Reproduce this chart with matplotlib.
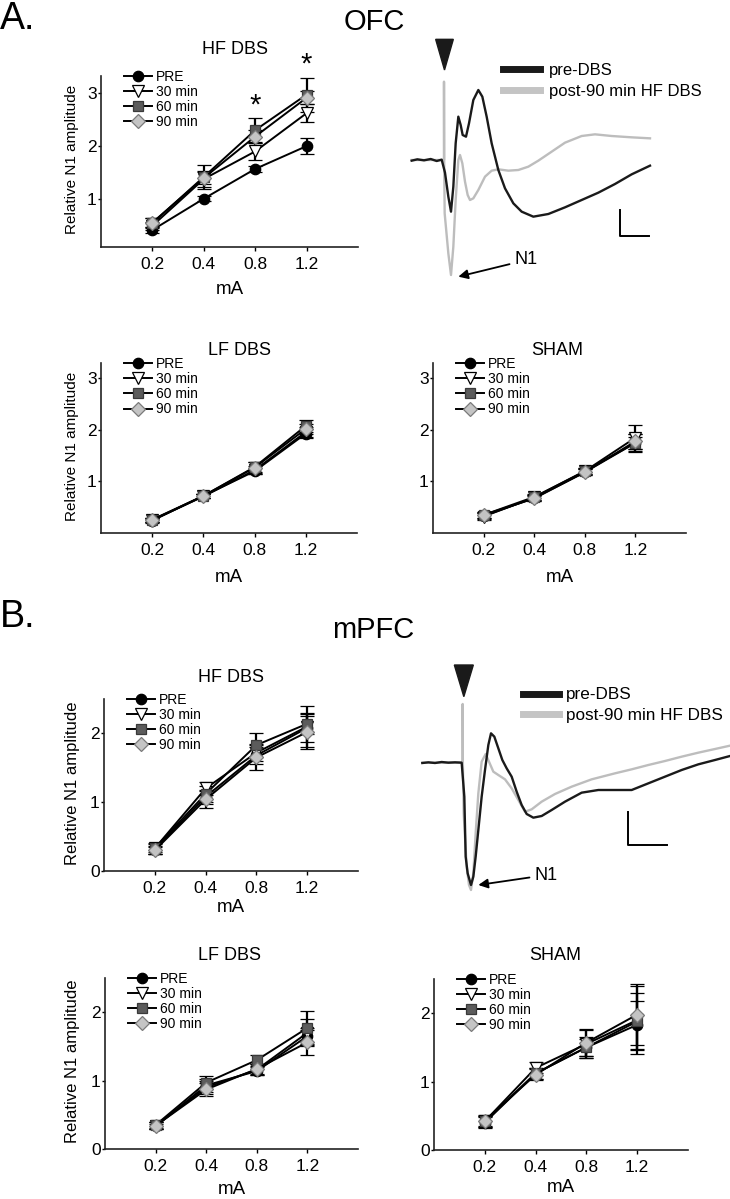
import numpy as np
import matplotlib
matplotlib.use('Agg')
import matplotlib.pyplot as plt
from matplotlib.lines import Line2D
from matplotlib.patches import Polygon

plt.rcParams['font.family'] = ['Liberation Sans', 'DejaVu Sans']

# ---------------- data ----------------
currents = ['0.2', '0.4', '0.8', '1.2']
series_labels = ['PRE', '30 min', '60 min', '90 min']

# OFC - HF DBS
ofc_hf_pre = [0.42, 1.01, 1.57, 2.00]
ofc_hf_pre_err = [0.05, 0.05, 0.05, 0.15]
ofc_hf_30 = [0.50, 1.38, 1.90, 2.62]
ofc_hf_30_err = [0.08, 0.15, 0.16, 0.17]
ofc_hf_60 = [0.55, 1.42, 2.30, 2.97]
ofc_hf_60_err = [0.10, 0.22, 0.22, 0.32]
ofc_hf_90 = [0.56, 1.40, 2.18, 2.91]
ofc_hf_90_err = [0.08, 0.12, 0.12, 0.12]

# OFC - LF DBS
ofc_lf_pre = [0.24, 0.72, 1.20, 1.93]
ofc_lf_pre_err = [0.04, 0.04, 0.06, 0.08]
ofc_lf_30 = [0.25, 0.71, 1.22, 1.96]
ofc_lf_30_err = [0.04, 0.04, 0.08, 0.10]
ofc_lf_60 = [0.25, 0.72, 1.28, 2.08]
ofc_lf_60_err = [0.04, 0.04, 0.10, 0.12]
ofc_lf_90 = [0.26, 0.72, 1.27, 2.02]
ofc_lf_90_err = [0.04, 0.04, 0.10, 0.10]

# OFC - SHAM
ofc_sham_pre = [0.33, 0.68, 1.18, 1.75]
ofc_sham_pre_err = [0.05, 0.05, 0.06, 0.12]
ofc_sham_30 = [0.32, 0.69, 1.20, 1.85]
ofc_sham_30_err = [0.06, 0.05, 0.06, 0.25]
ofc_sham_60 = [0.35, 0.70, 1.20, 1.75]
ofc_sham_60_err = [0.06, 0.05, 0.06, 0.18]
ofc_sham_90 = [0.35, 0.67, 1.18, 1.78]
ofc_sham_90_err = [0.05, 0.05, 0.06, 0.15]

# mPFC - HF DBS
mpfc_hf_pre = [0.31, 1.08, 1.68, 2.08]
mpfc_hf_pre_err = [0.06, 0.10, 0.12, 0.20]
mpfc_hf_30 = [0.33, 1.20, 1.72, 2.10]
mpfc_hf_30_err = [0.06, 0.10, 0.12, 0.30]
mpfc_hf_60 = [0.33, 1.12, 1.83, 2.14]
mpfc_hf_60_err = [0.08, 0.12, 0.18, 0.15]
mpfc_hf_90 = [0.30, 1.04, 1.65, 2.02]
mpfc_hf_90_err = [0.05, 0.12, 0.18, 0.24]

# mPFC - LF DBS
mpfc_lf_pre = [0.33, 0.93, 1.14, 1.65]
mpfc_lf_pre_err = [0.04, 0.10, 0.06, 0.12]
mpfc_lf_30 = [0.34, 0.90, 1.16, 1.70]
mpfc_lf_30_err = [0.05, 0.10, 0.08, 0.20]
mpfc_lf_60 = [0.35, 0.97, 1.30, 1.77]
mpfc_lf_60_err = [0.05, 0.10, 0.08, 0.25]
mpfc_lf_90 = [0.34, 0.87, 1.17, 1.56]
mpfc_lf_90_err = [0.05, 0.10, 0.08, 0.18]

# mPFC - SHAM
mpfc_sham_pre = [0.40, 1.12, 1.50, 1.83]
mpfc_sham_pre_err = [0.08, 0.08, 0.12, 0.35]
mpfc_sham_30 = [0.42, 1.20, 1.55, 1.90]
mpfc_sham_30_err = [0.08, 0.08, 0.20, 0.50]
mpfc_sham_60 = [0.42, 1.12, 1.50, 1.88]
mpfc_sham_60_err = [0.08, 0.08, 0.15, 0.42]
mpfc_sham_90 = [0.43, 1.10, 1.57, 1.98]
mpfc_sham_90_err = [0.08, 0.08, 0.20, 0.45]

# Example evoked traces (time in ms, amplitude in arbitrary units)
ofc_pre_t = [-9.7, -8.0, -6.0, -4.0, -2.2, -0.7, 0.3, 1.3, 2.1, 2.8, 3.5, 4.3, 5.0, 5.6, 6.6,
             7.5, 8.8, 10.3, 11.5, 12.8, 14.3, 16.3, 18.3, 20.8, 23.3, 26.8, 31.3, 36.3,
             41.3, 46.3, 51.3, 56.3, 61.8]
ofc_pre_a = [-0.02, 0.02, -0.01, 0.03, -0.03, 0.01, -0.38, -1.10, -1.55, -0.80, 0.50, 1.30,
             1.05, 0.75, 0.70, 1.10, 1.80, 2.10, 1.90, 1.30, 0.50, -0.30, -0.85, -1.30,
             -1.55, -1.70, -1.62, -1.42, -1.20, -0.98, -0.72, -0.43, -0.17]
ofc_post_t = [-9.7, -5.0, 0.0, 0.0, 0.05, 0.2, 1.3, 2.1, 2.8, 3.5, 4.3, 4.8, 5.5, 6.3, 7.1,
              7.8, 8.8, 10.3, 12.3, 14.3, 16.3, 19.3, 22.3, 25.3, 28.3, 32.3, 36.3, 41.3,
              45.3, 50.3, 56.3, 61.8]
ofc_post_a = [0.0, 0.0, 0.0, 2.35, 0.0, -1.60, -2.80, -3.45, -2.60, -1.20, 0.00, 0.15, -0.10,
              -0.65, -1.05, -1.20, -1.15, -0.90, -0.50, -0.32, -0.28, -0.32, -0.30, -0.20,
              -0.02, 0.25, 0.52, 0.72, 0.77, 0.72, 0.68, 0.65]

mpfc_pre_t = [-12.1, -10.3, -8.3, -6.3, -4.3, -2.3, -0.3, 0.5, 0.9, 1.5, 2.5, 3.2, 3.9, 4.7,
              5.7, 6.7, 7.7, 8.5, 9.5, 10.7, 11.9, 13.2, 14.7, 16.2, 17.7, 19.2, 21.2, 23.7,
              26.7, 30.7, 35.7, 40.7, 45.7, 50.7, 55.7, 60.7, 65.7, 70.7, 75.7, 80.2]
mpfc_pre_a = [-0.01, 0.01, -0.01, 0.02, 0.0, 0.01, 0.0, -1.02, -2.82, -3.32, -3.67, -3.42,
              -2.82, -2.02, -1.02, -0.22, 0.53, 0.88, 0.78, 0.43, 0.08, -0.17, -0.42, -0.87,
              -1.27, -1.54, -1.65, -1.60, -1.42, -1.17, -0.90, -0.82, -0.82, -0.82, -0.62,
              -0.42, -0.22, -0.05, 0.08, 0.20]
mpfc_post_t = [-12.1, -6.0, 0.0, 0.0, 0.05, 0.3, 1.2, 1.9, 2.5, 3.2, 3.9, 4.7, 5.7, 6.9, 7.9,
               9.2, 10.7, 12.7, 14.7, 16.7, 18.7, 20.7, 23.7, 27.7, 32.7, 38.7, 45.7, 50.7,
               55.7, 60.7, 65.7, 70.7, 75.7, 80.2]
mpfc_post_a = [0.0, 0.0, 0.0, 1.76, 0.0, -1.52, -3.12, -3.67, -3.82, -3.32, -2.12, -0.92,
               0.03, 0.26, 0.03, -0.27, -0.37, -0.50, -0.77, -1.12, -1.47, -1.40, -1.17,
               -0.94, -0.72, -0.50, -0.32, -0.20, -0.07, 0.05, 0.18, 0.30, 0.41, 0.51]

# ---------------- figure ----------------
W, H = 730, 1199
fig = plt.figure(figsize=(W / 100, H / 100), dpi=100)


def rect(l, t, r, b):
    return [l / W, 1 - b / H, (r - l) / W, (b - t) / H]


def ftext(x, y, s, **kw):
    fig.text(x / W, 1 - y / H, s, **kw)


styles = [
    dict(marker='o', mfc='black', mec='black', ms=7.5),
    dict(marker='v', mfc='white', mec='black', ms=8.5),
    dict(marker='s', mfc='#5c5c5c', mec='#3a3a3a', ms=7),
    dict(marker='D', mfc='#c4c4c4', mec='#7a7a7a', ms=7.5),
]


def dose_panel(box, means, errs, ylim, yticks, title, title_xy, xlab_y, ylab=None, ylab_fs=11):
    ax = fig.add_axes(rect(*box))
    x = np.arange(1, len(currents) + 1)
    handles = []
    for m, e, st, lab in zip(means, errs, styles, series_labels):
        ax.errorbar(x, m, yerr=e, color='black', lw=1.4, elinewidth=1.6, capsize=5,
                    capthick=1.6, mew=0.9, zorder=3, **st)
        handles.append(Line2D([], [], color='black', lw=1.4, mew=0.9, **st))
    ax.set_xlim(0, 5)
    ax.set_ylim(*ylim)
    ax.set_xticks(x)
    ax.set_xticklabels(currents)
    ax.set_yticks(yticks)
    for s in ['top', 'right']:
        ax.spines[s].set_visible(False)
    for s in ['left', 'bottom']:
        ax.spines[s].set_linewidth(1.2)
        ax.spines[s].set_color('#222222')
    ax.tick_params(axis='x', direction='out', length=3, width=1, labelsize=12.5, pad=4)
    ax.tick_params(axis='y', direction='out', length=2, width=1, labelsize=12.5, pad=1)
    ax.legend(handles, series_labels, loc='upper left', bbox_to_anchor=(0.09, 1.035),
              frameon=False, fontsize=10, handlelength=2.0, handletextpad=0.3,
              labelspacing=0.08, borderpad=0, borderaxespad=0)
    l, t, r, b = box
    ftext(title_xy[0], title_xy[1] + 2, title, fontsize=13, ha='center', va='center')
    ftext((l + r) / 2, xlab_y, 'mA', fontsize=13.5, ha='center', va='center')
    if ylab:
        ftext(72, (t + b) / 2 - 2, ylab, fontsize=ylab_fs, rotation=90, ha='center', va='center')
    return ax


def trace_panel(box, xlim, ylim, pre_t, pre_a, post_t, post_a, head, bar, n1_text,
                n1_head, leg_anchor, leg_fs, leg_hl, leg_tp, leg_sp):
    ax = fig.add_axes(rect(*box))
    ax.set_xlim(*xlim)
    ax.set_ylim(*ylim)
    ax.axis('off')
    ax.plot(post_t, post_a, color='#bdbdbd', lw=1.7, solid_joinstyle='round')
    ax.plot(pre_t, pre_a, color='#1a1a1a', lw=1.7, solid_joinstyle='round')
    ax.add_patch(Polygon(head, closed=True, color='#1a1a1a'))
    ax.plot(bar[0], bar[1], color='black', lw=1.4)
    ax.annotate('N1', xy=n1_head, xytext=n1_text, fontsize=13, va='center', ha='left',
                arrowprops=dict(arrowstyle='-|>', color='black', lw=1.3,
                                shrinkA=2, shrinkB=0, mutation_scale=14))
    h1 = Line2D([], [], color='#1a1a1a', lw=5)
    h2 = Line2D([], [], color='#c4c4c4', lw=5)
    ax.legend([h1, h2], ['pre-DBS', 'post-90 min HF DBS'], loc='upper left',
              bbox_to_anchor=leg_anchor, frameon=False, fontsize=leg_fs,
              handlelength=leg_hl, handletextpad=leg_tp, labelspacing=leg_sp,
              borderpad=0, borderaxespad=0)
    return ax


# ---- A. OFC ----
ftext(0, 19, 'A.', fontsize=27, ha='left', va='center')
ftext(374, 22, 'OFC', fontsize=21, ha='center', va='center')

ax = dose_panel((101, 76, 358, 247),
                [ofc_hf_pre, ofc_hf_30, ofc_hf_60, ofc_hf_90],
                [ofc_hf_pre_err, ofc_hf_30_err, ofc_hf_60_err, ofc_hf_90_err],
                (0.1, 3.32), [1, 2, 3], 'HF DBS', (235, 47), 290,
                ylab='Relative N1 amplitude', ylab_fs=11)
for xs, ys in [(3, 2.86), (4, 3.64)]:
    ax.annotate('*', xy=(xs, ys), xytext=(0, -9.5), textcoords='offset points',
                fontsize=21, ha='center', va='baseline', annotation_clip=False)

dose_panel((101, 363, 357, 533),
           [ofc_lf_pre, ofc_lf_30, ofc_lf_60, ofc_lf_90],
           [ofc_lf_pre_err, ofc_lf_30_err, ofc_lf_60_err, ofc_lf_90_err],
           (0.0, 3.3), [1, 2, 3], 'LF DBS', (239, 348), 578,
           ylab='Relative N1 amplitude', ylab_fs=11)

dose_panel((433, 363, 686, 533),
           [ofc_sham_pre, ofc_sham_30, ofc_sham_60, ofc_sham_90],
           [ofc_sham_pre_err, ofc_sham_30_err, ofc_sham_60_err, ofc_sham_90_err],
           (0.0, 3.3), [1, 2, 3], 'SHAM', (557, 348), 578)

trace_panel((400, 30, 700, 290), (-13.2, 76.8), (-3.9, 3.9),
            ofc_pre_t, ofc_pre_a, ofc_post_t, ofc_post_a,
            head=[(-2.5, 3.62), (2.8, 3.62), (0.15, 2.70)],
            bar=([52.8, 52.8, 61.5], [-1.50, -2.28, -2.28]),
            n1_text=(21.3, -3.0), n1_head=(4.3, -3.5),
            leg_anchor=(0.343, 0.875), leg_fs=12, leg_hl=2.2, leg_tp=0.55, leg_sp=0.4)

# ---- B. mPFC ----
ftext(0, 617, 'B.', fontsize=27, ha='left', va='center')
ftext(373, 630, 'mPFC', fontsize=21, ha='center', va='center')

dose_panel((104, 699, 358, 871),
           [mpfc_hf_pre, mpfc_hf_30, mpfc_hf_60, mpfc_hf_90],
           [mpfc_hf_pre_err, mpfc_hf_30_err, mpfc_hf_60_err, mpfc_hf_90_err],
           (0.0, 2.5), [0, 1, 2], 'HF DBS', (231, 675), 907,
           ylab='Relative N1 amplitude', ylab_fs=12)

dose_panel((105, 978, 358, 1149),
           [mpfc_lf_pre, mpfc_lf_30, mpfc_lf_60, mpfc_lf_90],
           [mpfc_lf_pre_err, mpfc_lf_30_err, mpfc_lf_60_err, mpfc_lf_90_err],
           (0.0, 2.5), [0, 1, 2], 'LF DBS', (229, 953), 1190,
           ylab='Relative N1 amplitude', ylab_fs=12)

dose_panel((434, 979, 688, 1150),
           [mpfc_sham_pre, mpfc_sham_30, mpfc_sham_60, mpfc_sham_90],
           [mpfc_sham_pre_err, mpfc_sham_30_err, mpfc_sham_60_err, mpfc_sham_90_err],
           (0.0, 2.5), [0, 1, 2], 'SHAM', (555, 953), 1188)

trace_panel((400, 650, 730, 900), (-18.8, 80.2), (-4.12, 3.38),
            mpfc_pre_t, mpfc_pre_a, mpfc_post_t, mpfc_post_a,
            head=[(-2.5, 2.93), (3.2, 2.93), (0.35, 1.98)],
            bar=([49.7, 49.7, 61.2], [-1.47, -2.47, -2.47]),
            n1_text=(21.7, -3.37), n1_head=(4.7, -3.67),
            leg_anchor=(0.374, 0.85), leg_fs=12.3, leg_hl=2.1, leg_tp=0.37, leg_sp=0.3)

fig.savefig('out.png', dpi=100)
